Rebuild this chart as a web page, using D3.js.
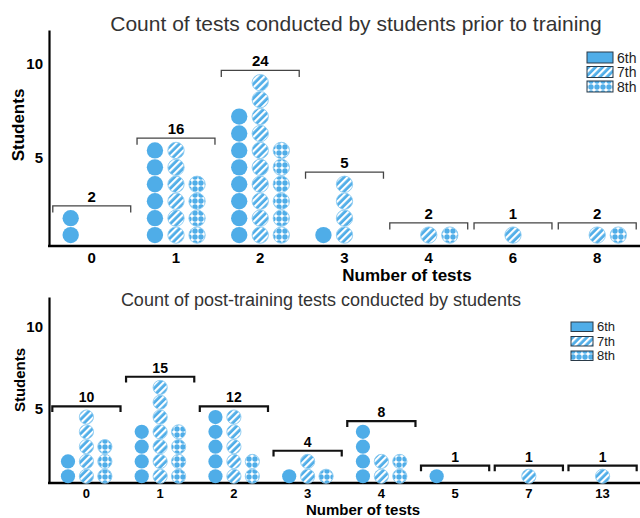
<!DOCTYPE html>
<html>
<head>
<meta charset="utf-8">
<script src="https://cdn.jsdelivr.net/npm/d3@7/dist/d3.min.js"></script>
<style>
  html, body { margin: 0; padding: 0; background: #ffffff; }
  svg { display: block; font-family: "Liberation Sans", Arial, Helvetica, sans-serif; }
</style>
</head>
<body>
<svg id="chart" width="640" height="518"></svg>
<script>
// ---------- data ----------
const grades = ["6th", "7th", "8th"];

const preTitle = "Count of tests conducted by students prior to training";
const preCategories = ["0", "1", "2", "3", "4", "6", "8"];
const pre6th = [2, 6, 8, 1, 0, 0, 0];
const pre7th = [0, 6, 10, 4, 1, 1, 1];
const pre8th = [0, 4, 6, 0, 1, 0, 1];
const preTotals = [2, 16, 24, 5, 2, 1, 2];

const postTitle = "Count of post-training tests conducted by students";
const postCategories = ["0", "1", "2", "3", "4", "5", "7", "13"];
const post6th = [2, 4, 5, 1, 4, 1, 0, 0];
const post7th = [5, 7, 5, 2, 2, 0, 1, 1];
const post8th = [3, 4, 2, 1, 2, 0, 0, 0];
const postTotals = [10, 15, 12, 4, 8, 1, 1, 1];

const yTickValues = [5, 10];
const xTitle = "Number of tests";
const yTitle = "Students";

// ---------- styles ----------
const BLUE = "#4fade8";
const svg = d3.select("#chart");
const defs = svg.append("defs");

const stripe = defs.append("pattern").attr("id", "p7").attr("patternUnits", "userSpaceOnUse")
  .attr("width", 5).attr("height", 5).attr("patternTransform", "rotate(45)");
stripe.append("rect").attr("width", 5).attr("height", 5).attr("fill", BLUE);
stripe.append("rect").attr("width", 2.2).attr("height", 5).attr("fill", "#ffffff");

const dotsP = defs.append("pattern").attr("id", "p8").attr("patternUnits", "userSpaceOnUse")
  .attr("width", 6).attr("height", 6);
dotsP.append("rect").attr("width", 6).attr("height", 6).attr("fill", "#ffffff");
dotsP.append("circle").attr("cx", 3).attr("cy", 3).attr("r", 2.7).attr("fill", BLUE);

const fills = { "6th": BLUE, "7th": "url(#p7)", "8th": "url(#p8)" };

function drawPanel(cfg) {
  const g = svg.append("g");

  const x = d3.scaleBand().domain(cfg.categories).range([49, 640])
    .paddingInner(0.075).paddingOuter(0.045);
  const y = d3.scaleLinear().domain(cfg.yDomain).range(cfg.yRange);
  const inner = d3.scalePoint().domain(grades).range([0, x.bandwidth()]).padding(0.85);

  const unit = 0.9;                         // stacking step in data units
  const r = (y(0) - y(unit / 2));

  // title
  g.append("text").attr("x", cfg.titleX).attr("y", cfg.titleY)
    .attr("text-anchor", "middle").attr("font-size", cfg.titleSize).attr("fill", "#333")
    .text(cfg.title);

  // y axis
  const yAxis = d3.axisLeft(y).tickValues(yTickValues).tickSize(0).tickPadding(6).tickFormat(d3.format("d"));
  const ya = g.append("g").attr("transform", `translate(49,0)`).call(yAxis);
  ya.select(".domain").attr("stroke", "#000").attr("stroke-width", 2.2);
  ya.selectAll("text").attr("font-size", cfg.tickSize).attr("font-weight", "bold").attr("fill", "#000")
    .attr("font-family", "Liberation Sans, Arial, sans-serif");

  // baseline
  const base = y(cfg.yDomain[0]);
  g.append("line").attr("x1", 48).attr("x2", 640).attr("y1", base).attr("y2", base)
    .attr("stroke", "#000").attr("stroke-width", 2.4);

  // x tick labels
  const xAxis = d3.axisBottom(x).tickSize(0).tickPadding(cfg.xTickPad);
  const xa = g.append("g").attr("transform", `translate(0,${base})`).call(xAxis);
  xa.select(".domain").remove();
  xa.selectAll("text").attr("font-size", cfg.xTickSize).attr("font-weight", "bold").attr("fill", "#000")
    .attr("font-family", "Liberation Sans, Arial, sans-serif");

  // axis titles
  g.append("text").attr("x", cfg.xTitleX).attr("y", cfg.xTitleY).attr("text-anchor", "middle")
    .attr("font-size", cfg.xTitleSize).attr("font-weight", "bold").text(xTitle);
  g.append("text").attr("transform", `translate(${cfg.yTitleX},${cfg.yTitleY}) rotate(-90)`)
    .attr("text-anchor", "middle").attr("dominant-baseline", "central")
    .attr("font-size", cfg.yTitleSize).attr("font-weight", "bold").text(yTitle);

  // dots
  const series = { "6th": cfg.s6, "7th": cfg.s7, "8th": cfg.s8 };
  cfg.categories.forEach((cat, i) => {
    let maxCount = 0;
    grades.forEach(gr => {
      const count = series[gr][i];
      maxCount = Math.max(maxCount, count);
      const cx = x(cat) + inner(gr);
      const pts = d3.range(1, count + 1);
      g.selectAll(null).data(pts).enter().append("circle")
        .attr("cx", cx).attr("cy", k => y(k * unit)).attr("r", r - 0.3)
        .attr("fill", fills[gr])
        .attr("stroke", gr === "6th" ? "none" : "#8ccbf0").attr("stroke-width", 0.9);
    });
    // bracket
    const top = y(maxCount * unit + unit / 2 + 0.2);
    const arm = y(0) - y(0.35);
    const x0 = x(cat), x1 = x(cat) + x.bandwidth();
    g.append("path").attr("d", `M${x0},${top + arm}V${top}H${x1}V${top + arm}`)
      .attr("fill", "none").attr("stroke", cfg.bracketColor).attr("stroke-width", cfg.bracketWidth);
    g.append("text").attr("x", x0 + x.bandwidth() / 2).attr("y", top - 4)
      .attr("text-anchor", "middle").attr("font-size", cfg.labelSize).attr("font-weight", "bold")
      .text(cfg.totals[i]);
  });

  // legend
  const lg = g.append("g");
  grades.forEach((gr, j) => {
    const ly = cfg.legY + j * cfg.legStep;
    lg.append("rect").attr("x", cfg.legX).attr("y", ly).attr("width", cfg.legW).attr("height", cfg.legH)
      .attr("fill", fills[gr]).attr("stroke", "#2a3a48").attr("stroke-width", 1);
    lg.append("text").attr("x", cfg.legX + cfg.legW + 4).attr("y", ly + cfg.legH / 2)
      .attr("dominant-baseline", "central").attr("font-size", cfg.legSize).attr("fill", "#222").text(gr);
  });
}

drawPanel({
  title: preTitle, titleX: 356, titleY: 31, titleSize: 21,
  categories: preCategories, s6: pre6th, s7: pre7th, s8: pre8th, totals: preTotals,
  yDomain: [0.32, 11.8], yRange: [246, 30],
  tickSize: 15, xTickSize: 15, xTickPad: 6,
  xTitleX: 407, xTitleY: 281, xTitleSize: 17,
  yTitleX: 18, yTitleY: 125, yTitleSize: 17,
  bracketColor: "#444", bracketWidth: 1.3, labelSize: 15,
  legX: 587, legY: 52, legStep: 14.5, legW: 26, legH: 11, legSize: 14
});

drawPanel({
  title: postTitle, titleX: 321, titleY: 306, titleSize: 18,
  categories: postCategories, s6: post6th, s7: post7th, s8: post8th, totals: postTotals,
  yDomain: [0.49, 11.8], yRange: [483, 297],
  tickSize: 15, xTickSize: 13, xTickPad: 6,
  xTitleX: 363, xTitleY: 515, xTitleSize: 15,
  yTitleX: 19, yTitleY: 380, yTitleSize: 15,
  bracketColor: "#111", bracketWidth: 2.2, labelSize: 14,
  legX: 571, legY: 322, legStep: 14.5, legW: 22, legH: 9.5, legSize: 13
});
</script>
</body>
</html>
